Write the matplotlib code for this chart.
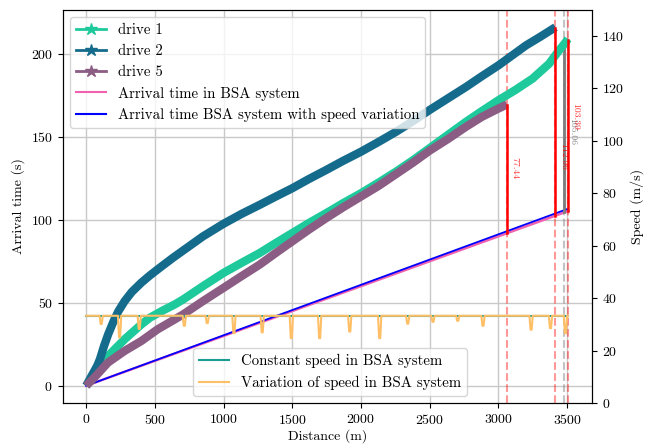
import numpy as np
import matplotlib
matplotlib.use("Agg")
import matplotlib.pyplot as plt
from matplotlib.lines import Line2D

plt.rcParams['font.family'] = 'cmr10'
plt.rcParams['mathtext.fontset'] = 'cm'
plt.rcParams['axes.formatter.use_mathtext'] = True
plt.rcParams['font.size'] = 10

# --- data -------------------------------------------------------------------
d1_x = [0, 60, 160, 280, 402, 464, 550, 645, 706, 850, 1000, 1130, 1263, 1380,
        1500, 1620, 1747, 1870, 2000, 2130, 2255, 2380, 2497, 2630, 2764, 2880,
        3000, 3120, 3248, 3369, 3441, 3490, 3506]
d1_t = [0, 6, 18, 28, 37, 41, 45, 49, 52, 60, 68, 74, 80, 86,
        92, 98, 104, 110, 116, 122.5, 129, 136, 143, 151, 159, 165.5,
        172, 178, 185, 194, 202, 207, 209]

d2_x = [0, 40, 80, 100, 130, 160, 200, 235, 280, 332, 400, 464, 550, 630, 706,
        850, 1000, 1130, 1263, 1380, 1500, 1620, 1747, 1870, 2000, 2130, 2255,
        2380, 2497, 2630, 2764, 2880, 3000, 3100, 3200, 3300, 3415]
d2_t = [0, 6, 12, 16, 24, 31, 39, 45, 51, 56.5, 62, 66.5, 72, 77, 81.5,
        90, 97.6, 103.5, 109, 114, 119, 124.5, 130, 135.5, 141, 147, 153,
        159.5, 166, 173, 180, 186.5, 193, 199, 205, 210, 216]

d5_x = [0, 60, 159, 280, 402, 520, 645, 706, 850, 1000, 1130, 1263, 1380, 1500,
        1620, 1747, 1870, 2000, 2130, 2255, 2380, 2497, 2630, 2764, 2880, 3000,
        3063]
d5_t = [0, 5, 14, 21, 27, 34, 40, 43, 51, 59, 66, 73, 80, 87,
        94, 101, 107.5, 114, 120.5, 127.5, 134.5, 141.5, 148.5, 156, 162, 167,
        169.5]

bsa_x = [0, 3506]
bsa_t = [0, 105.2]
bsa_var_x = [0, 3506]
bsa_var_t = [0, 106.6]

# speed profiles (right axis)
const_x = [0, 3506]
const_v = [33.33, 33.33]
dip_x = [109, 243, 386, 714, 881, 1075, 1281, 1493, 1699, 1918, 2136, 2340,
         2524, 2704, 2888, 3238, 3379, 3488]
dip_v = [30.2, 25.1, 28.3, 29.5, 30.5, 26.7, 27.0, 24.8, 24.8, 27.3, 24.8, 30.3,
         31.0, 31.4, 29.5, 28.0, 28.6, 26.7]

# gaps between drive ends and BSA arrival
gap_x = [3063, 3415, 3506]
gap_lo = [91.9, 102.5, 105.2]
gap_hi = [169.3, 215.5, 208.6]
gap_lbl = ['77.44', '112.96', '103.39']
gap_lbl_y = [131, 138, 162]
grey_x = 3479
grey_lo, grey_hi = 104.4, 206
grey_lbl = '105.06'
grey_lbl_y = 153

# build speed-variation polyline from the dips
var_x = [0]
var_v = [33.33]
for x, v in zip(dip_x, dip_v):
    var_x += [x - 12, x - 4, x + 4, x + 12]
    var_v += [33.33, v, v, 33.33]
var_x.append(3506)
var_v.append(33.33)

c1, c2, c5 = '#1ec99b', '#146b8b', '#8b5d84'
c_pink, c_blue = '#f062b0', '#0000ff'
c_teal, c_orange = '#1a9e92', '#ffbf66'

# --- plot --------------------------------------------------------------------
fig, ax = plt.subplots(figsize=(6.45, 4.45), dpi=100)
fig.subplots_adjust(left=0.097, right=0.918, top=0.978, bottom=0.094)

ax.grid(True, color='#c8c8c8', linewidth=1.0)
ax.set_axisbelow(True)

ax.plot(bsa_x, bsa_t, color=c_pink, lw=1.8, zorder=2)
ax.plot(bsa_var_x, bsa_var_t, color=c_blue, lw=1.3, zorder=2)

ax.plot([grey_x, grey_x], [grey_lo, grey_hi], color='#777777', lw=2, zorder=2)
ax.axvline(grey_x, color='#888888', ls='--', lw=1.5, alpha=0.5, zorder=2)
ax.text(grey_x + 25, grey_lbl_y, grey_lbl, color='#888888', fontsize=7,
        rotation=-90, ha='left', va='center')

for xs, ts, c in [(d1_x, d1_t, c1), (d2_x, d2_t, c2), (d5_x, d5_t, c5)]:
    ax.plot(xs, ts, color=c, lw=6, zorder=3, solid_capstyle='butt',
            solid_joinstyle='round')

for x, lo, hi, lbl, ly in zip(gap_x, gap_lo, gap_hi, gap_lbl, gap_lbl_y):
    ax.plot([x, x], [lo, hi], color='red', lw=1.8, zorder=4)
    ax.axvline(x, color='red', ls='--', lw=1.5, alpha=0.4, zorder=2)
    ax.text(x + 25, ly, lbl, color='red', fontsize=7, rotation=-90,
            ha='left', va='center', alpha=0.8)

ax.set_xlim(-172, 3682)
ax.set_ylim(-10.5, 226.5)
ax.set_xlabel('Distance (m)', labelpad=2)
ax.set_ylabel('Arrival time (s)')

handles = [
    Line2D([], [], color=c1, lw=2, marker='*', ms=9),
    Line2D([], [], color=c2, lw=2, marker='*', ms=9),
    Line2D([], [], color=c5, lw=2, marker='*', ms=9),
    Line2D([], [], color=c_pink, lw=1.5),
    Line2D([], [], color=c_blue, lw=1.5),
]
labels = ['drive 1', 'drive 2', 'drive 5', 'Arrival time in BSA system',
          'Arrival time BSA system with speed variation']
ax.legend(handles, labels, loc='upper left', fontsize=10.7)

ax2 = ax.twinx()
ax2.plot(const_x, const_v, color=c_teal, lw=1.5, label='Constant speed in BSA system')
ax2.plot(var_x, var_v, color=c_orange, lw=1.5, label='Variation of speed in BSA system')
ax2.set_ylim(0, 150)
ax2.set_yticks(np.arange(0, 141, 20))
ax2.set_ylabel('Speed (m/s)')
ax2.legend(loc='lower center', bbox_to_anchor=(0.505, 0.0), fontsize=10.7)

fig.savefig('out.png', dpi=100)
